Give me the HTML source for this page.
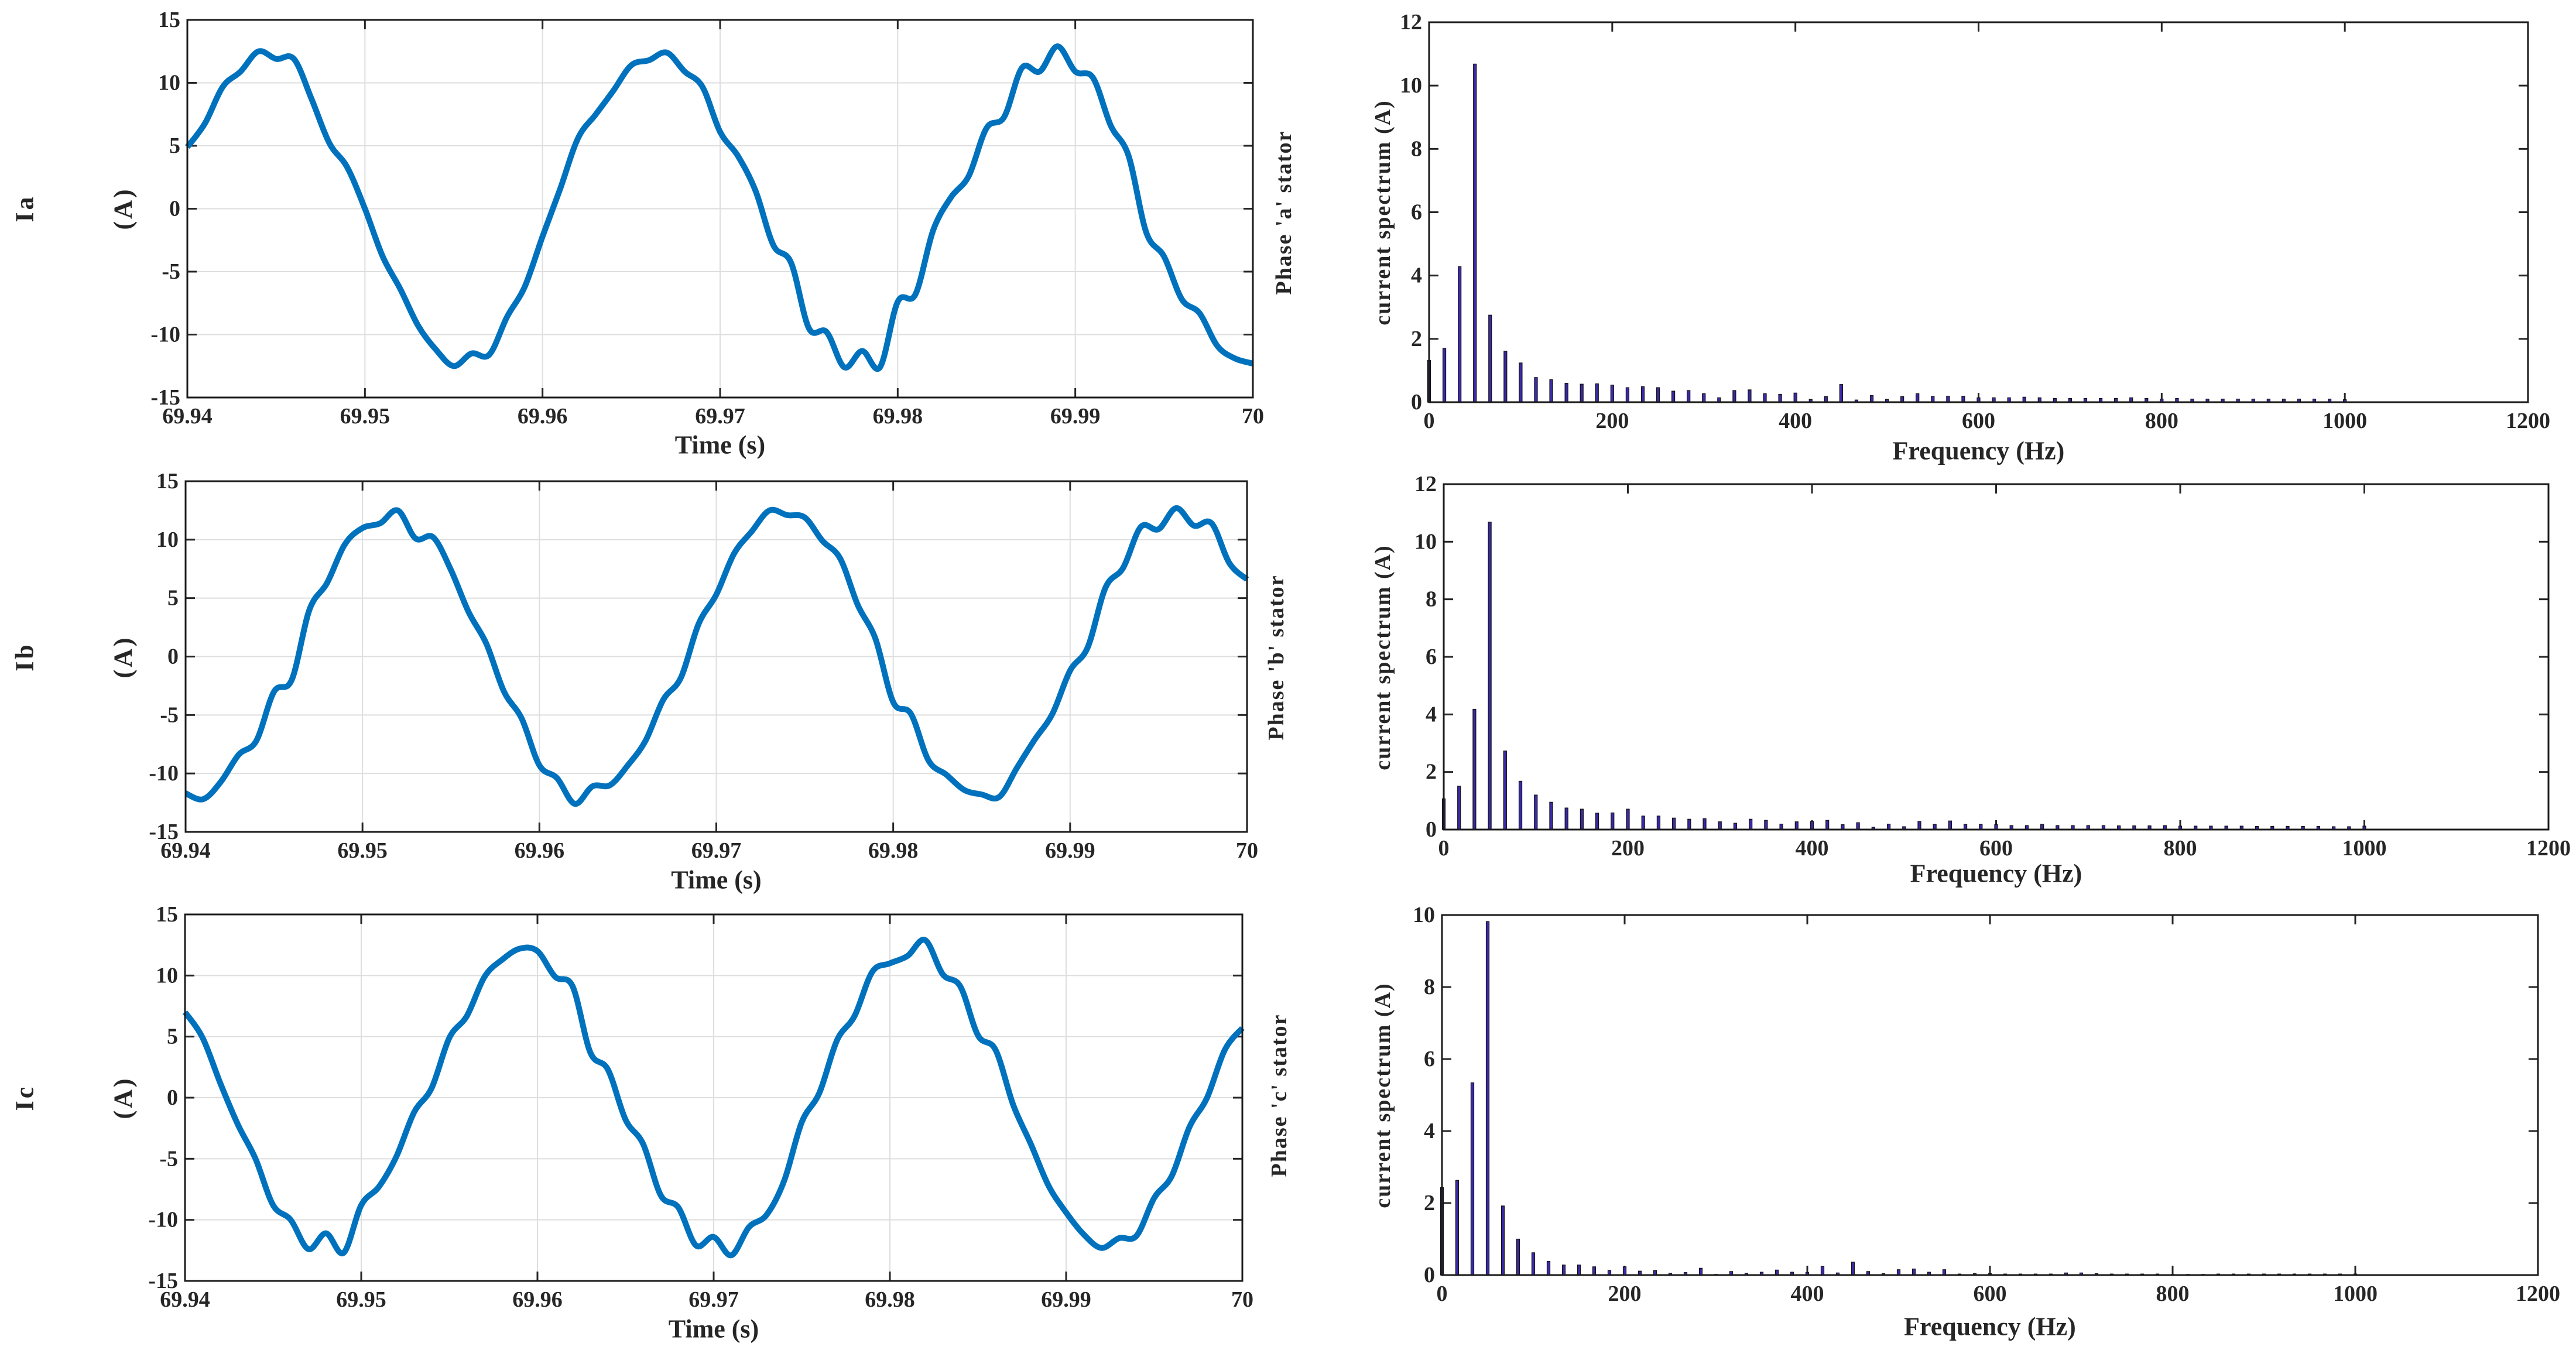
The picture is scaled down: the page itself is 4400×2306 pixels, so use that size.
<!DOCTYPE html>
<html><head><meta charset="utf-8"><style>
html,body{margin:0;padding:0;background:#fff}
svg{display:block}
text{font-family:"Liberation Serif",serif;font-weight:bold;fill:#262626}
</style></head><body>
<svg id="fig" width="4400" height="2306" viewBox="0 0 4400 2306" xmlns="http://www.w3.org/2000/svg"></svg>
<script>
const timeTicks=[69.94,69.95,69.96,69.97,69.98,69.99,70];
const timeTickLabels=["69.94","69.95","69.96","69.97","69.98","69.99","70"];
const currentTicks=[-15,-10,-5,0,5,10,15];
const freqTicks=[0,200,400,600,800,1000,1200];
const specTicks12=[0,2,4,6,8,10,12];
const specTicks10=[0,2,4,6,8,10];
const tStart=69.94, tStep=0.001;
const ia=[4.9,6.8,9.7,10.9,12.5,11.9,11.9,8.7,5.2,3.3,0,-3.8,-6.4,-9.3,-11.2,-12.5,-11.5,-11.6,-8.6,-6.2,-2.2,1.6,5.6,7.5,9.4,11.4,11.8,12.4,10.9,9.7,6.1,4.2,1.4,-2.9,-4.3,-9.5,-9.8,-12.6,-11.3,-12.6,-7.4,-6.8,-1.7,0.9,2.6,6.4,7.3,11.2,10.9,12.9,10.9,10.4,6.6,4.2,-1.9,-3.8,-7.2,-8.3,-10.9,-11.9,-12.3];
const ib=[-11.7,-12.2,-10.7,-8.4,-7.2,-3.0,-2.0,4.0,6.3,9.6,11.0,11.4,12.5,10.1,10.2,7.4,3.8,1.1,-3.0,-5.3,-9.3,-10.4,-12.6,-11.1,-11.0,-9.3,-7.2,-3.7,-1.8,2.8,5.3,8.8,10.7,12.5,12.1,11.9,9.9,8.4,4.4,1.5,-3.9,-4.9,-8.9,-10.1,-11.4,-11.8,-12.0,-9.5,-7.1,-4.9,-1.2,0.8,5.9,7.6,11.1,10.9,12.7,11.2,11.4,8.0,6.6];
const ic=[7.0,4.9,1.2,-2.2,-5.0,-8.8,-10.0,-12.4,-11.1,-12.7,-8.8,-7.3,-4.8,-1.2,0.8,4.9,6.7,9.9,11.3,12.2,12.0,9.9,9.1,3.7,2.3,-1.8,-3.8,-8.0,-9.0,-12.1,-11.4,-12.9,-10.6,-9.6,-6.8,-2.0,0.4,4.7,6.7,10.3,11.0,11.6,12.9,10.1,9.1,5.1,3.9,-0.6,-3.8,-7.2,-9.4,-11.2,-12.3,-11.5,-11.3,-8.2,-6.4,-2.4,0,3.9,5.7];
const fStep=50/3;
const specA=[1.32,1.7,4.28,10.68,2.75,1.61,1.24,0.78,0.71,0.6,0.57,0.58,0.54,0.46,0.49,0.46,0.35,0.37,0.27,0.14,0.37,0.39,0.27,0.25,0.29,0.09,0.18,0.56,0.07,0.21,0.09,0.18,0.27,0.18,0.19,0.19,0.14,0.14,0.14,0.16,0.14,0.12,0.12,0.12,0.12,0.12,0.14,0.12,0.1,0.12,0.1,0.1,0.1,0.1,0.1,0.1,0.1,0.1,0.1,0.1,0.08];
const specB=[1.07,1.51,4.18,10.68,2.73,1.68,1.2,0.95,0.75,0.71,0.57,0.58,0.71,0.47,0.47,0.4,0.36,0.38,0.27,0.22,0.36,0.32,0.19,0.27,0.28,0.32,0.17,0.24,0.08,0.19,0.1,0.28,0.18,0.3,0.18,0.18,0.17,0.14,0.14,0.18,0.14,0.14,0.14,0.14,0.13,0.13,0.13,0.14,0.12,0.12,0.12,0.12,0.12,0.11,0.11,0.11,0.11,0.11,0.1,0.1,0.12];
const specC=[2.43,2.63,5.34,9.82,1.92,1.0,0.62,0.38,0.28,0.28,0.23,0.13,0.23,0.11,0.13,0.05,0.07,0.19,0.02,0.1,0.05,0.08,0.14,0.08,0.07,0.24,0.06,0.36,0.1,0.04,0.15,0.17,0.08,0.15,0.03,0.04,0.04,0.03,0.03,0.03,0.03,0.06,0.06,0.04,0.03,0.03,0.03,0.03,0.02,0.02,0.02,0.03,0.03,0.03,0.03,0.03,0.03,0.03,0.03,0.03,0.03];

const NS="http://www.w3.org/2000/svg";
const svg=document.getElementById('fig');
function el(tag,attrs,parent){const e=document.createElementNS(NS,tag);for(const k in attrs)e.setAttribute(k,attrs[k]);(parent||svg).appendChild(e);return e;}
function txt(s,x,y,size,parent,anchor,rot){const e=el('text',{x:x,y:y,'font-size':size,'text-anchor':anchor||'middle','dominant-baseline':'central'},parent);if(rot)e.setAttribute('transform','rotate(-90 '+x+' '+y+')');e.textContent=s;return e;}
function lin(d0,d1,r0,r1){return v=>r0+(v-d0)*(r1-r0)/(d1-d0);}

function timePanel(name,box,data,rowLabel,rowCy,xTitleY){
  const g=el('g',{});
  
  
  const X=lin(69.94,70,box.x0,box.x1),Y=lin(-15,15,box.y1,box.y0);
  timeTicks.forEach((t,i)=>{const x=X(t);
    const gl=el('line',{x1:x,x2:x,y1:box.y0,y2:box.y1,stroke:'#dedede','stroke-width':2},g);
    
    el('line',{x1:x,x2:x,y1:box.y1,y2:box.y1-16,stroke:'#262626','stroke-width':3},g);
    el('line',{x1:x,x2:x,y1:box.y0,y2:box.y0+16,stroke:'#262626','stroke-width':3},g);
    const l=txt(timeTickLabels[i],x,box.y1+32,38,g);
    });
  currentTicks.forEach(v=>{const y=Y(v);
    const gl=el('line',{x1:box.x0,x2:box.x1,y1:y,y2:y,stroke:'#dedede','stroke-width':2},g);
    
    el('line',{x1:box.x0,x2:box.x0+16,y1:y,y2:y,stroke:'#262626','stroke-width':3},g);
    el('line',{x1:box.x1,x2:box.x1-16,y1:y,y2:y,stroke:'#262626','stroke-width':3},g);
    const l=txt(String(v),box.x0-12,y,38,g,'end');
    });
  const pts=data.map((v,i)=>[X(tStart+i*tStep),Y(v)]);
  let d='M'+pts[0][0]+','+pts[0][1];
  for(let i=0;i<pts.length-1;i++){const p0=pts[Math.max(0,i-1)],p1=pts[i],p2=pts[i+1],p3=pts[Math.min(pts.length-1,i+2)];
    const c1=[p1[0]+(p2[0]-p0[0])/6,p1[1]+(p2[1]-p0[1])/6],c2=[p2[0]-(p3[0]-p1[0])/6,p2[1]-(p3[1]-p1[1])/6];
    d+=' C'+c1[0].toFixed(1)+','+c1[1].toFixed(1)+' '+c2[0].toFixed(1)+','+c2[1].toFixed(1)+' '+p2[0].toFixed(1)+','+p2[1].toFixed(1);}
  const path=el('path',{d:d,fill:'none',stroke:'#0072BD','stroke-width':10,'stroke-linejoin':'round'},g);
  
  
  const fr=el('rect',{x:box.x0,y:box.y0,width:box.x1-box.x0,height:box.y1-box.y0,fill:'none',stroke:'#1a1a1a','stroke-width':3},g);
  
  const xt=txt('Time (s)',(box.x0+box.x1)/2,xTitleY,44,g);
  
  const yt=txt('(A)',210,rowCy,44,g,'middle',true);
  yt.setAttribute('letter-spacing','4');
  
  const rl=txt(rowLabel,42,rowCy,44,g,'middle',true);
  rl.setAttribute('letter-spacing','4');
  
}

function specPanel(name,box,data,yMax,yTicks,phase,titleX,rowCy,xTitleY){
  const g=el('g',{});
  
  
  const X=lin(0,1200,box.x0,box.x1),Y=lin(0,yMax,box.y1,box.y0);
  freqTicks.forEach(f=>{const x=X(f);
    el('line',{x1:x,x2:x,y1:box.y1,y2:box.y1-16,stroke:'#262626','stroke-width':3},g);
    el('line',{x1:x,x2:x,y1:box.y0,y2:box.y0+16,stroke:'#262626','stroke-width':3},g);
    const l=txt(String(f),x,box.y1+32,38,g);
    });
  yTicks.forEach(v=>{const y=Y(v);
    el('line',{x1:box.x0,x2:box.x0+16,y1:y,y2:y,stroke:'#262626','stroke-width':3},g);
    el('line',{x1:box.x1,x2:box.x1-16,y1:y,y2:y,stroke:'#262626','stroke-width':3},g);
    const l=txt(String(v),box.x0-12,y,38,g,'end');
    });
  data.forEach((v,i)=>{const x=X(i*fStep),y=Y(v);
    const b=el('rect',{x:x-2.5,y:y,width:5,height:Math.max(0,box.y1-y),fill:'#3a2aa8',stroke:'#111','stroke-width':1.2},g);
    
    });
  const fr=el('rect',{x:box.x0,y:box.y0,width:box.x1-box.x0,height:box.y1-box.y0,fill:'none',stroke:'#1a1a1a','stroke-width':3},g);
  
  const xt=txt('Frequency (Hz)',(box.x0+box.x1)/2,xTitleY,44,g);
  
  const p=txt("Phase '"+phase+"' stator",titleX,rowCy,38,g,'middle',true);
  p.setAttribute('letter-spacing','2');
  
  const c=txt('current spectrum (A)',2362,rowCy,38,g,'middle',true);
  c.setAttribute('letter-spacing','2');
  
}

timePanel('ia-chart',{x0:320,x1:2140,y0:34,y1:679},ia,'Ia',356,760);
timePanel('ib-chart',{x0:317,x1:2130,y0:822,y1:1421},ib,'Ib',1122,1503);
timePanel('ic-chart',{x0:316,x1:2122,y0:1562,y1:2188},ic,'Ic',1875,2270);
specPanel('spectrum-a-chart',{x0:2441,x1:4318,y0:38,y1:687},specA,12,specTicks12,'a',2193,363,770);
specPanel('spectrum-b-chart',{x0:2466,x1:4353,y0:827,y1:1417},specB,12,specTicks12,'b',2180,1123,1492);
specPanel('spectrum-c-chart',{x0:2463,x1:4335,y0:1563,y1:2178},specC,10,specTicks10,'c',2185,1871,2266);
</script>
</body></html>
